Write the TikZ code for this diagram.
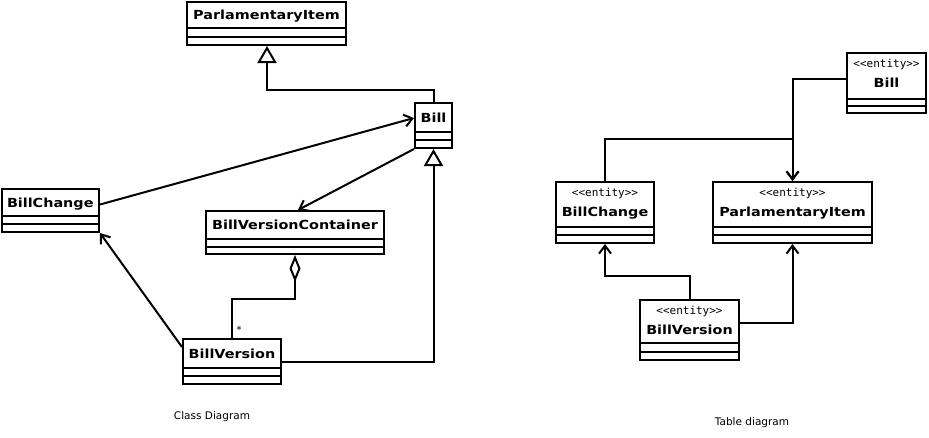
\documentclass[tikz,border=0pt]{standalone}
\usepackage{fontspec}
\setmainfont{DejaVu Sans}
\newfontfamily\namefont[FakeStretch=1.15]{DejaVu Sans}
\newfontfamily\stfont{DejaVu Sans Mono}
\usetikzlibrary{arrows.meta}
\tikzset{
  boxst/.style={draw, line width=2pt, rectangle, inner sep=0pt, fill=white},
  compline/.style={line width=2pt},
  namest/.style={font=\namefont\bfseries\fontsize{12.5}{14}\selectfont, inner sep=0pt, text height=9pt, text depth=0pt},
  stst/.style={font=\stfont\fontsize{11}{12}\selectfont, inner sep=0pt, text height=6pt, text depth=0pt},
  assoc/.style={line width=2pt, -{Straight Barb[length=8pt,width=12pt]}},
  gen/.style={line width=2pt, -{Triangle[open,length=17pt,width=19pt]}},
  agg/.style={line width=2pt, {Diamond[open,length=27pt,width=11pt]}-},
  captionst/.style={font=\fontsize{10.5}{12}\selectfont, inner sep=0pt},
}
\newcommand\umlclass[8]{%
  \node[boxst, minimum width={(#4-#2)*1pt}, minimum height={(#5-#3)*1pt}] (#1) at ({(#2+#4)/2},{(#3+#5)/2}) {};
  \draw[compline] (#2,#6) -- (#4,#6) (#2,#7) -- (#4,#7);
  \node[namest] (#1-name) at ({(#2+#4)/2},{(#3+#6)/2}) {#8};
}
\newcommand\umlentity[8]{%
  \node[boxst, minimum width={(#4-#2)*1pt}, minimum height={(#5-#3)*1pt}] (#1) at ({(#2+#4)/2},{(#3+#5)/2}) {};
  \draw[compline] (#2,#6) -- (#4,#6) (#2,#7) -- (#4,#7);
  \node[stst] (#1-st) at ({(#2+#4)/2},{#3+11}) {<<entity>>};
  \node[namest] (#1-name) at ({(#2+#4)/2},{#3+30}) {#8};
}
\begin{document}
\begin{tikzpicture}[x=1pt,y=-1pt]
\useasboundingbox (0,0) rectangle (929,437);
% ---- class diagram ----
\umlclass{pi}{187}{2}{346}{45}{28}{36.5}{ParlamentaryItem}
\umlclass{bill}{415}{103}{452}{148}{132}{140}{Bill}
\umlclass{bc}{1.5}{189}{99}{232}{216}{224}{BillChange}
\umlclass{bvc}{206}{211}{384}{254}{239}{247}{BillVersionContainer}
\umlclass{bv}{183}{339}{281}{384}{368}{376}{BillVersion}
\coordinate (g1) at (267,90);
\draw[gen] (bill.north) |- (g1) -- (g1 |- pi.south);
\draw[gen] (bv.east) -| (bill.south);
\draw[assoc] ([yshift=6pt]bc.east) -- ([yshift=7.5pt]bill.west);
\draw[assoc] (bill.south west) -- ([xshift=3pt]bvc.north);
\draw[agg] (bvc.south) -- ++(0,44) -| (bv.north);
\node[font=\fontsize{10}{12}\selectfont, inner sep=0pt] (mult) at (239,330) {*};
\draw[assoc] ([yshift=-9pt]bv.north west) -- (bc.south east);
\node[captionst] (cap1) at (212,417) {Class Diagram};
% ---- table diagram ----
\umlentity{be}{847}{53}{926}{113}{99}{106}{Bill}
\umlentity{bce}{556}{182}{654}{243}{227}{235}{BillChange}
\umlentity{pie}{713}{182}{872}{243}{227}{235}{ParlamentaryItem}
\umlentity{bve}{640}{300}{739}{360}{343}{352}{BillVersion}
\coordinate (j1) at (0,139);
\coordinate (j2) at (0,276);
\draw[assoc] ([yshift=4pt]be.west) -| (pie.north);
\draw[assoc] (bce.north) -- (bce.north |- j1) -| (pie.north);
\draw[assoc] (bve.north) -- (bve.north |- j2) -| (bce.south);
\draw[assoc] ([yshift=7pt]bve.east) -| (pie.south);
\node[captionst] (cap2) at (752,423) {Table diagram};
\end{tikzpicture}
\end{document}
